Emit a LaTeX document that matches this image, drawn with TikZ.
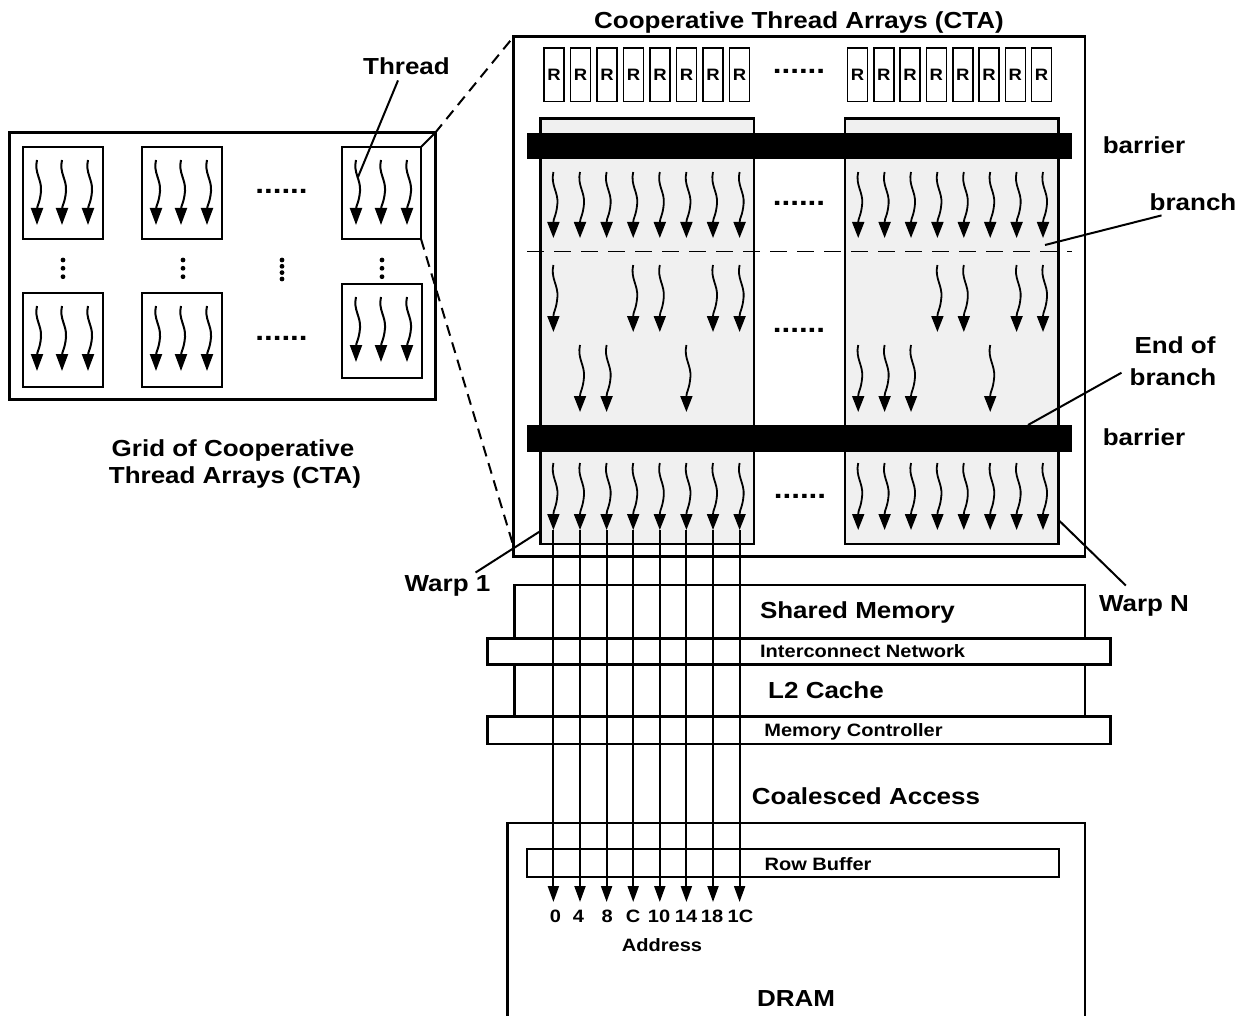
\documentclass[tikz,border=0pt]{standalone}
\usepackage{fontspec}
\setmainfont{Liberation Sans}[FakeStretch=1.12]
\usetikzlibrary{arrows.meta}
\newcommand\bxnode[6][]{\node[inner sep=0pt,outer sep=0pt,anchor=north west,minimum width={(#4)-(#2)},minimum height={(#5)-(#3)},#1] (#6) at ({#2},{#3}) {};}
\newcommand\thrarrow[4][]{%
  \begin{scope}[shift={({#2},{#3})}]
  \pgfmathsetmacro\sqh{(#4)-(#3)}
  \draw[#1] (0,0) .. controls (-3,0.2*\sqh) and (5,0.3*\sqh) .. (4,0.48*\sqh) .. controls (3,0.66*\sqh) and (0,0.7*\sqh) .. (0,0.76*\sqh) -- (0,\sqh);
  \end{scope}}
\begin{document}
\begin{tikzpicture}[x=1pt,y=-1pt,
  bigt/.style={font=\fontsize{23.2}{26}\selectfont\bfseries, inner sep=0pt, anchor=base},
  smallt/.style={font=\fontsize{17.9}{20}\selectfont\bfseries, inner sep=0pt, anchor=base},
  dotsf/.style={font=\fontsize{28}{30}\selectfont\bfseries, inner sep=0pt, anchor=base},
  squig/.style={line width=1.8pt, -{Triangle[length=16pt,width=12pt]}},
  gsquig/.style={line width=2pt, -{Triangle[length=17pt,width=12pt]}},
  vline/.style={line width=2pt, -{Triangle[length=16pt,width=11pt]}},
  thickbox/.style={draw, line width=3pt},
  gbox/.style={draw, line width=2.8pt},
  ctabox/.style={draw, line width=2.6pt},
  warpbox/.style={draw, line width=2.5pt, fill=black!6},
  barrierbox/.style={fill=black},
  membox/.style={draw, line width=2.6pt},
  hbar/.style={draw, line width=2.6pt, fill=white},
  rbox/.style={draw, line width=1.6pt, minimum width=20, minimum height=53.4, inner sep=0pt,
    font=\fontsize{16.5}{18}\selectfont\bfseries},
  conn/.style={line width=2pt},
  dashln/.style={line width=2pt, dash pattern=on 11pt off 7pt},
  branchln/.style={line width=1.6pt, dash pattern=on 17pt off 10pt}
]
\useasboundingbox (0,0) rectangle (1247,1016);
\clip (0,0) rectangle (1247,1016);

% ---------- Grid of CTAs ----------
\bxnode[thickbox]{9}{133}{435}{399}{grid}
\bxnode[gbox]{23}{147}{103}{239}{g11}
\bxnode[gbox]{142}{147}{222}{239}{g12}
\bxnode[gbox]{342}{147}{421}{239}{g14}
\bxnode[gbox]{23}{293}{103}{387}{g21}
\bxnode[gbox]{142}{293}{222}{387}{g22}
\bxnode[gbox]{342}{284}{422}{378}{g24}
\foreach \L/\T in {23/147,142/147,342/147,23/293,142/293,342/284}
  \foreach \o in {14,39,65} {\thrarrow[gsquig]{\L+\o}{\T+13}{\T+78}}
\node[dotsf] (gd1) at (281.5,194) {......};
\node[dotsf] (gd2) at (281.5,340) {......};
\foreach \x in {63,183,382} \foreach \y in {260,268.3,276.7} \fill (\x,\y) circle (2.4pt);
\foreach \y in {260,266.3,272.6,279} \fill (282,\y) circle (2.4pt);
\node[bigt] (glbl1) at (233,456) {Grid of Cooperative};
\node[bigt] (glbl2) at (235,483) {Thread Arrays (CTA)};

% ---------- CTA ----------
\bxnode[ctabox]{513.6}{36.7}{1085}{556.7}{cta}
\node[bigt] (ctatitle) at (799,28.3) {Cooperative Thread Arrays (CTA)};
\foreach \i in {0,...,7} {
  \node[rbox] (rl\i) at ({554+26.5*\i},75) {R};
  \node[rbox] (rr\i) at ({857.5+26.3*\i},75) {R};
}
\node[dotsf] (rdots) at (799,73.7) {......};

\bxnode[warpbox]{540.5}{118.3}{754}{544}{warp1}
\bxnode[warpbox]{845}{118.3}{1058.5}{544}{warpN}
\bxnode[barrierbox]{527}{133.3}{1072}{159.3}{bar1}
\bxnode[barrierbox]{527}{425}{1072}{451.7}{bar2}
\draw[branchln] (527,251.7) -- (1072,251.7);

% thread arrows
\foreach \i in {0,...,7} {
  \thrarrow[squig]{553.4+26.6*\i}{172}{238}
  \thrarrow[squig]{858.2+26.4*\i}{172}{238}
  \thrarrow[squig]{553.4+26.6*\i}{463}{530}
  \thrarrow[squig]{858.2+26.4*\i}{463}{530}
}
\foreach \i in {0,3,4,6,7} {\thrarrow[squig]{553.4+26.6*\i}{265}{332}}
\foreach \i in {3,4,6,7} {\thrarrow[squig]{858.2+26.4*\i}{265}{332}}
\foreach \i in {1,2,5} {\thrarrow[squig]{553.4+26.6*\i}{345}{412}}
\foreach \i in {0,1,2,5} {\thrarrow[squig]{858.2+26.4*\i}{345}{412}}
\node[dotsf] (wd1) at (799,205.3) {......};
\node[dotsf] (wd2) at (799,332) {......};
\node[dotsf] (wd3) at (800,498.7) {......};

% labels on the right
\node[bigt] (barl1) at (1144,153.3) {barrier};
\node[bigt] (barl2) at (1144,445) {barrier};
\node[bigt] (brl) at (1193,210.7) {branch};
\node[bigt] (eob1) at (1175,353) {End of};
\node[bigt] (eob2) at (1173,385) {branch};
\coordinate (brpt) at (1045,245);
\draw[conn] ([xshift=12pt,yshift=-4.3pt]brl.south west) -- (brpt);
\draw[conn] ([xshift=-8pt,yshift=4pt]eob2.west) -- ([xshift=-44pt]bar2.north east);

% Thread label and zoom lines
\node[bigt] (thread) at (406.5,75) {Thread};
\coordinate (thrpt) at (358,177);
\draw[conn] ([xshift=-8.5pt,yshift=-5pt]thread.south) -- (thrpt);
\draw[conn] (g14.north east) -- (grid.north east);
\draw[dashln] (grid.north east) -- (cta.north west);
\draw[dashln] (g14.south east) -- ([yshift=10pt]cta.south west);

% Warp labels
\node[bigt] (w1l) at (447.5,591.7) {Warp 1};
\node[bigt] (wNl) at (1144,611.7) {Warp N};
\draw[conn] ([xshift=-15pt,yshift=3pt]w1l.north east) -- ([yshift=13pt]warp1.south west);
\draw[conn] ([xshift=27pt,yshift=10pt]wNl.north west) -- ([yshift=24pt]warpN.south east);

% ---------- Memory hierarchy ----------
\bxnode[membox]{514.7}{585}{1085}{730}{shmem}
\bxnode[hbar]{487.3}{638.3}{1110.6}{664.3}{icn}
\bxnode[hbar]{487.3}{716.7}{1110.6}{744}{mctl}
\node[bigt] (shmemt) at (857.5,618.3) {Shared Memory};
\node[smallt] (icnt) at (862.6,657) {Interconnect Network};
\node[bigt] (l2t) at (826,698) {L2 Cache};
\node[smallt] (mctlt) at (853.5,736.7) {Memory Controller};
\node[bigt] (coal) at (866,804) {Coalesced Access};

\bxnode[membox]{507.5}{823}{1085}{1040}{dram}
\bxnode[hbar]{527}{849}{1059}{877}{rowbuf}
\node[smallt] (rowbuft) at (818,870) {Row Buffer};

\foreach \i in {0,...,7} {
  \coordinate (ltop\i) at ({553.4+26.6*\i},530);
  \coordinate (lbot\i) at ({553.4+26.6*\i},902);
  \draw[vline] (ltop\i) -- (lbot\i);
}
\foreach \n/\x in {0/555.5,4/578.4,8/607.3,C/633.2,10/659,14/686,18/712,1C/740.5}
  \node[smallt] (ad\n) at (\x,922.7) {\n};
\node[smallt] (addr) at (662,951.7) {Address};
\node[bigt] (dramt) at (796,1006.7) {DRAM};
\end{tikzpicture}
\end{document}
